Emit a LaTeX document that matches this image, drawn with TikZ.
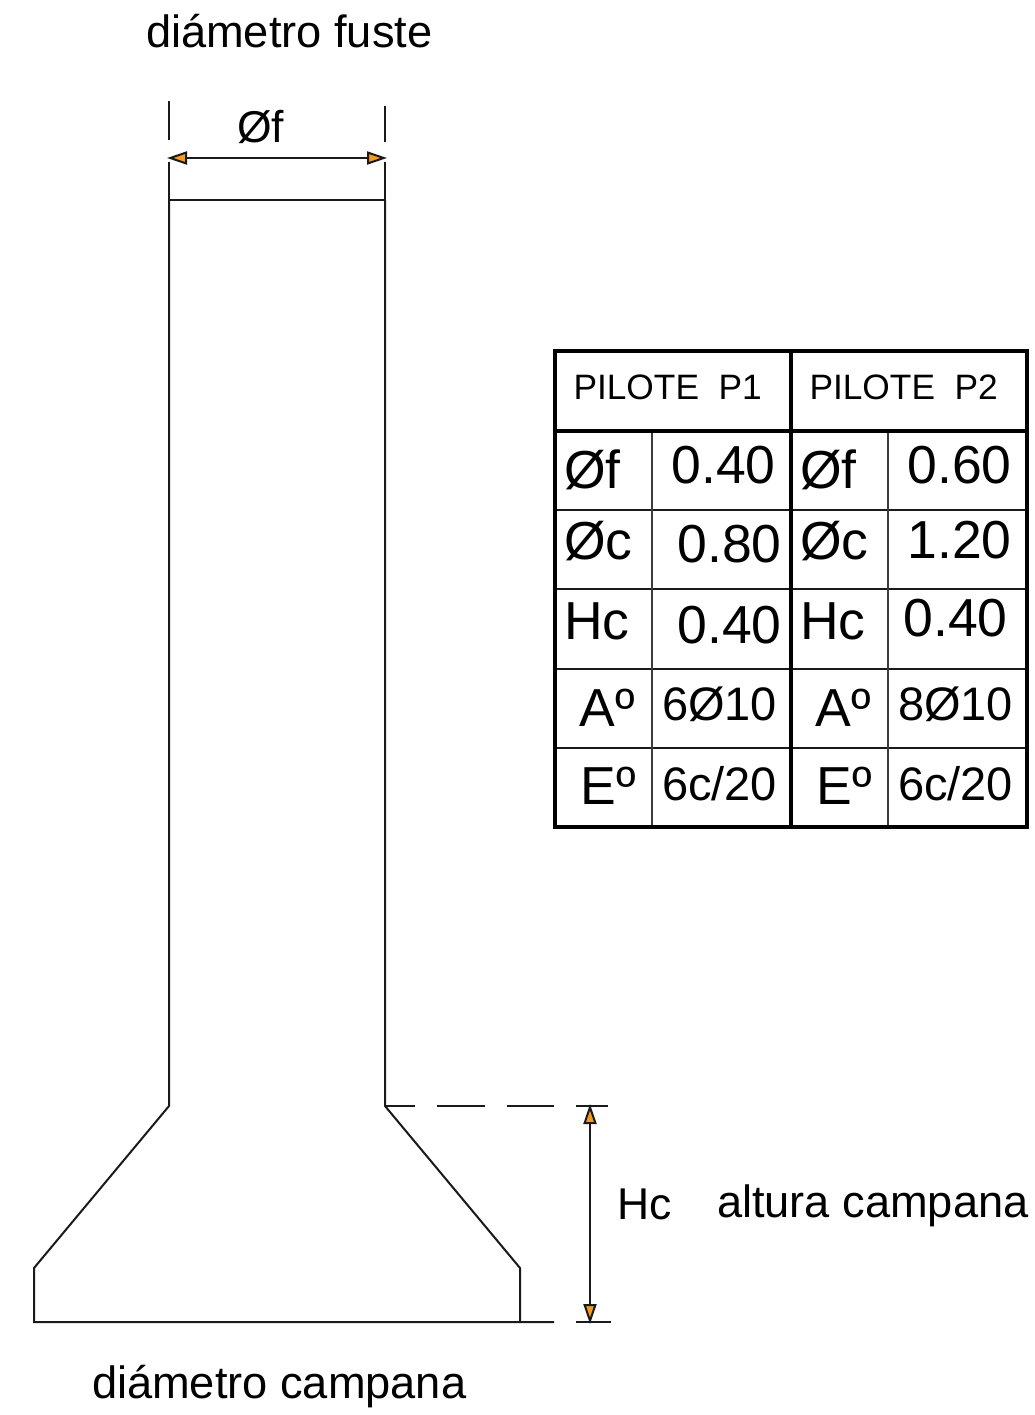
\documentclass[tikz,border=0pt]{standalone}
\usepackage{fontspec}
\setmainfont{Liberation Sans}
\usetikzlibrary{arrows.meta}
\definecolor{tip}{HTML}{F79A1E}
\definecolor{ink}{HTML}{1A1A1A}
\newcommand{\fs}[1]{\fontsize{#1}{#1}\selectfont}
\tikzset{
  x=1pt,y=-1pt,
  lbl/.style={anchor=base west,inner sep=0pt,outer sep=0pt,text=black},
  thin line/.style={draw=ink,line width=2pt},
  cell line/.style={draw=ink!85,line width=2pt},
  frame line/.style={draw=black,line width=3.8pt},
  dim line/.style={draw=ink,line width=2pt,{Triangle[length=20pt,width=13pt,fill=tip]}-{Triangle[length=20pt,width=13pt,fill=tip]}},
  hdr/.style={lbl,font=\fs{35.3}},
  bigtext/.style={lbl,font=\fs{53.5}},
  midtext/.style={lbl,font=\fs{47}},
  captext/.style={lbl,font=\fs{45.2}},
  dimtext/.style={lbl,font=\fs{44.5}},
}
\begin{document}
\begin{tikzpicture}
\useasboundingbox (0,0) rectangle (1035,1415);
% outline coordinates
\coordinate (tl) at (169,200);
\coordinate (tr) at (385,200);
\coordinate (ml) at (169,1106);
\coordinate (mr) at (385,1106);
\coordinate (sl) at (34,1268);
\coordinate (sr) at (520,1268);
\coordinate (bl) at (34,1322);
\coordinate (br) at (520,1322);
\coordinate (be) at (554,1322);
\coordinate (tickla) at (169,101);
\coordinate (ticklb) at (169,140);
\coordinate (tickra) at (385,106);
\coordinate (tickrb) at (385,142);
\coordinate (dla) at (167,158);
\coordinate (dlb) at (387,158);
\coordinate (hda) at (590,1104);
\coordinate (hdb) at (590,1324);
\coordinate (exa) at (608,1106);
\coordinate (exb) at (576,1322);
\coordinate (exc) at (611,1322);
\coordinate (ltop) at (169,162);
\coordinate (rtop) at (385,162);
% pile
\draw[thin line] (tl) -- (ml) -- (sl) -- (bl) -- (be);
\draw[thin line] (tr) -- (mr) -- (sr) -- (br);
\draw[thin line] (tl) -- (tr);
\draw[thin line] (ltop) -- (tl);
\draw[thin line] (rtop) -- (tr);
\draw[thin line] (tickla) -- (ticklb);
\draw[thin line] (tickra) -- (tickrb);
\draw[thin line,dash pattern=on 30pt off 22pt on 48pt off 22pt on 47pt off 22pt on 32pt] (mr) -- (exa);
\draw[thin line] (exb) -- (exc);
% dimensions
\draw[dim line] (dla) -- (dlb);
\draw[dim line] (hda) -- (hdb);
% table grid
\coordinate (t0) at (555,351);
\coordinate (t1) at (1027,351);
\coordinate (t2) at (1027,827);
\coordinate (t3) at (555,827);
\foreach \yy in {510,589,669,748}{\draw[thin line] (555,\yy) -- (1027,\yy);}
\foreach \xx in {652,888}{\draw[cell line] (\xx,431) -- (\xx,827);}
\draw[frame line] (555,431) -- (1027,431);
\draw[frame line] (791,351) -- (791,827);
\draw[frame line,line cap=rect] (t0) -- (t1) -- (t2) -- (t3) -- cycle;
% labels
\node[captext] (capf) at (146,48) {diámetro fuste};
\node[captext] (capc) at (92,1398) {diámetro campana};
\node[captext] (capa) at (717,1217) {altura campana};
\node[dimtext] (dimf) at (237,143) {Øf};
\node[dimtext] (dimh) at (617,1219) {Hc};
\node[hdr] (p1) at (573.5,399) {PILOTE\ \ P1};
\node[hdr] (p2) at (809.5,399) {PILOTE\ \ P2};
\node[bigtext] (a1) at (564,488) {Øf};
\node[bigtext] (a2) at (671.5,483) {0.40};
\node[bigtext] (a3) at (800,488) {Øf};
\node[bigtext] (a4) at (907.5,483) {0.60};
\node[bigtext] (b1) at (564,559) {Øc};
\node[bigtext] (b2) at (677.5,562) {0.80};
\node[bigtext] (b3) at (800,559) {Øc};
\node[bigtext] (b4) at (907.5,558) {1.20};
\node[bigtext] (c1) at (564,639) {Hc};
\node[bigtext] (c2) at (677.5,643) {0.40};
\node[bigtext] (c3) at (800,639) {Hc};
\node[bigtext] (c4) at (903.5,636) {0.40};
\node[bigtext] (d1) at (579.5,726) {Aº};
\node[midtext] (d2) at (662,720) {6Ø10};
\node[bigtext] (d3) at (815.5,726) {Aº};
\node[midtext] (d4) at (898,720) {8Ø10};
\node[bigtext] (e1) at (580.5,804) {Eº};
\node[midtext] (e2) at (662,800) {6c/20};
\node[bigtext] (e3) at (816.5,804) {Eº};
\node[midtext] (e4) at (898,800) {6c/20};
\end{tikzpicture}
\end{document}
